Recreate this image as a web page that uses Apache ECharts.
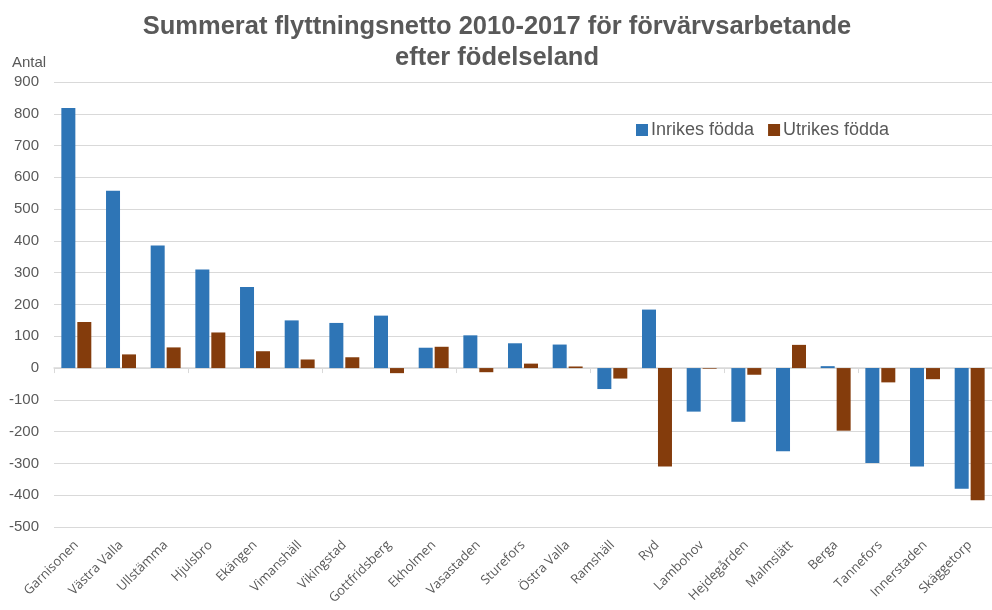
<!DOCTYPE html>
<html>
<head>
<meta charset="utf-8">
<script src="https://cdn.jsdelivr.net/npm/echarts@6/dist/echarts.min.js"></script>
<style>
  html, body { margin: 0; padding: 0; background: #fff; }
  #chart { width: 992px; height: 610px; }
</style>
</head>
<body>
<div id="chart"></div>
<script>
// Stadsdelar, sorterade som i originalet
const categories = [
  "Garnisonen", "Västra Valla", "Ullstämma", "Hjulsbro", "Ekängen", "Vimanshäll",
  "Vikingstad", "Gottfridsberg", "Ekholmen", "Vasastaden", "Sturefors", "Östra Valla",
  "Ramshäll", "Ryd", "Lambohov", "Hejdegården", "Malmslätt", "Berga", "Tannefors",
  "Innerstaden", "Skäggetorp"
];
const inrikes = [818, 558, 386, 310, 255, 150, 142, 165, 64, 103, 78, 74, -66, 184, -137, -169, -262, 6, -299, -310, -380];
const utrikes = [145, 43, 65, 112, 53, 27, 34, -16, 67, -13, 14, 5, -33, -310, -2, -21, 73, -197, -45, -35, -416];
const seriesNames = ["Inrikes födda", "Utrikes födda"];

const textColor = "#595959";
const gridColor = "#d9d9d9";

const chart = echarts.init(document.getElementById("chart"));

const option = {
  backgroundColor: "#fff",
  animation: false,
  title: {
    text: "Summerat flyttningsnetto 2010-2017 för förvärvsarbetande\nefter födelseland",
    left: 492,
    textAlign: "center",
    top: 6,
    textStyle: {
      fontFamily: "Liberation Sans, Arial",
      fontSize: 25.5,
      fontWeight: "bold",
      color: textColor,
      lineHeight: 31,
    },
  },
  graphic: [
    {
      type: "text",
      left: 12,
      top: 55,
      style: {
        text: "Antal",
        fontFamily: "Liberation Sans, Arial",
        fontSize: 15,
        fill: textColor,
      },
    },
  ],
  legend: {
    left: 631,
    top: 116,
    icon: "rect",
    itemWidth: 12,
    itemHeight: 12,
    itemGap: 14,
    textStyle: {
      fontFamily: "Liberation Sans, Arial",
      fontSize: 18,
      color: textColor,
      padding: [0, 0, 0, -2],
    },
    data: seriesNames,
  },
  grid: {
    left: 54,
    top: 82,
    width: 947,
    height: 445,
  },
  xAxis: [
    {
      type: "category",
      data: categories,
      position: "bottom",
      axisLine: { show: false, onZero: false },
      axisTick: { show: false },
      axisLabel: {
        rotate: 45,
        margin: 16,
        interval: 0,
        fontFamily: "Open Sans",
        fontSize: 13,
        color: textColor,
      },
    },
    {
      type: "category",
      data: categories,
      position: "bottom",
      axisLine: { show: true, onZero: true, lineStyle: { color: gridColor, width: 1.5 } },
      axisTick: { show: true, length: 5, lineStyle: { color: gridColor } },
      axisLabel: { show: false },
    },
  ],
  yAxis: {
    type: "value",
    min: -500,
    max: 900,
    interval: 100,
    axisLine: { show: false },
    axisTick: { show: false },
    axisLabel: {
      margin: 15,
      fontFamily: "Liberation Sans, Arial",
      fontSize: 15,
      color: textColor,
    },
    splitLine: { lineStyle: { color: gridColor, width: 1 } },
  },
  series: [
    {
      name: seriesNames[0],
      type: "bar",
      xAxisIndex: 0,
      data: inrikes,
      barWidth: 14,
      barGap: "14%",
      itemStyle: { color: "#2e75b6" },
    },
    {
      name: seriesNames[1],
      type: "bar",
      xAxisIndex: 0,
      data: utrikes,
      barWidth: 14,
      barGap: "14%",
      itemStyle: { color: "#843c0c" },
    },
  ],
};

chart.setOption(option);
</script>
</body>
</html>
